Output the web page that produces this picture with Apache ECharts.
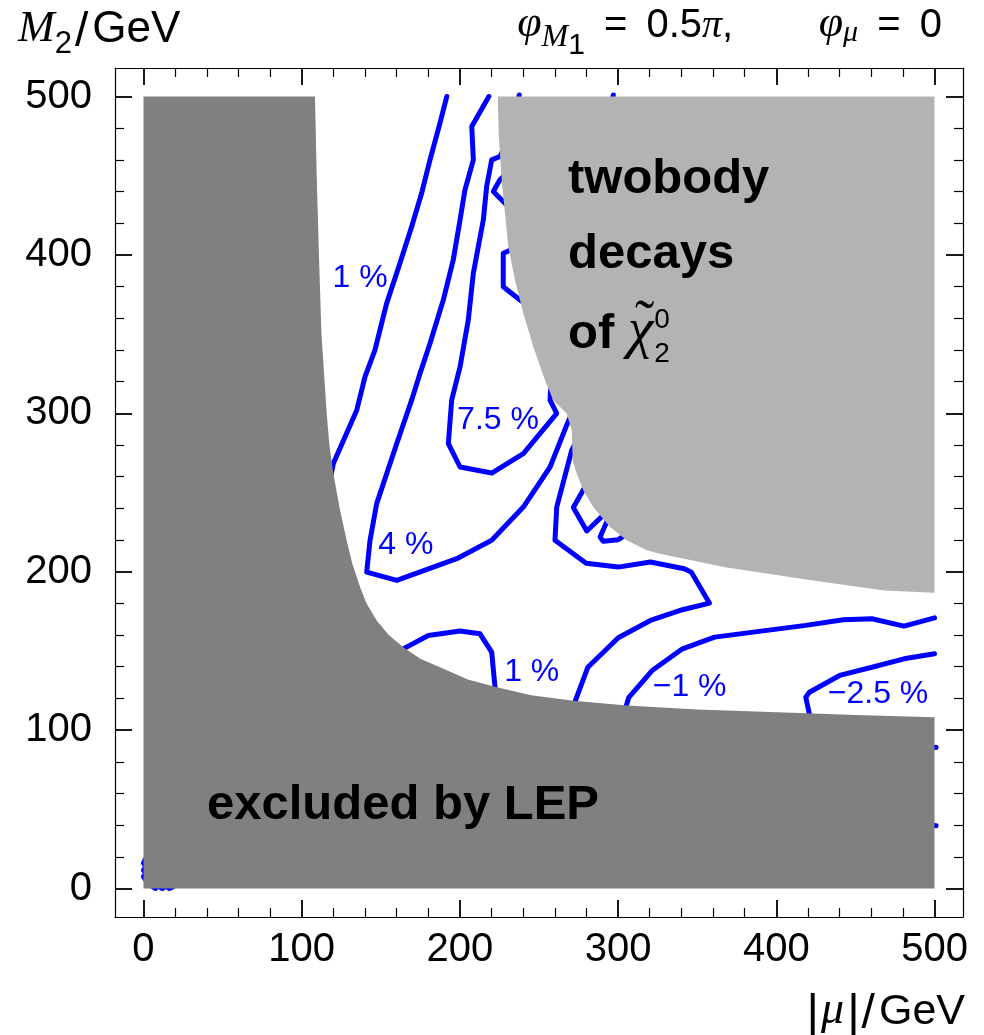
<!DOCTYPE html>
<html><head><meta charset="utf-8">
<script src="https://cdn.jsdelivr.net/npm/echarts@6.0.0/dist/echarts.min.js"></script>
<style>html,body{margin:0;padding:0;background:#fff}#c{width:984px;height:1035px}</style>
</head><body><div id="c"></div>
<script>
// ---------- data ----------
const MAJOR_TICKS = [0, 100, 200, 300, 400, 500];
const TICK_LABELS = ['0', '100', '200', '300', '400', '500'];
const MINOR_TICKS = [20, 40, 60, 80, 120, 140, 160, 180, 220, 240, 260, 280, 320, 340, 360, 380, 420, 440, 460, 480];

// excluded by LEP (dark grey)
const lepRegion = [[0,0],[0,500],[108.4,500],[109.5,450],[110.9,400],[112.5,350],[115.8,300],[117.5,280],[120,262],[124,240],[128.4,219.8],[132,205],[136.9,190.3],[141,180],[147.4,169.2],[155,160],[164.2,152.3],[175,145],[187.4,139.7],[205,132],[223.3,127.1],[245,122],[271.7,118.6],[305.7,115.5],[350,113],[400.5,111.3],[450,109.5],[500,108.1],[500,0]];
// twobody decays (light grey)
const twoBodyRegion = [[223.9,500],[500,500],[500,186.7],[468.3,188.2],[423.1,194.5],[366.7,202.9],[326.5,211.4],[318.1,213.5],[305.4,219.8],[294.9,228.2],[284.3,240.8],[278,251.4],[273.8,262],[271.3,270],[270.7,289.3],[267.5,299.9],[259,308.3],[253.8,320.9],[246.4,342],[240.1,363.1],[234.8,384.1],[230.6,405.2],[226.4,447.4],[224.6,475]];

// contour lines
const c1Upper = [[191.7,500],[187.4,483.2],[181.1,460],[175.8,438.9],[169.5,417.8],[162.1,394.7],[153.7,369.4],[146.3,339.9],[140,323],[134.8,302],[120,268.3],[119,263],[113,240]];
const c1Lower = [[150,150],[164.2,151.3],[180,159.7],[200.1,162.5],[212.7,160.8],[220.1,149.2],[222.2,127.1],[223,100]];
const c4 = [[218.3,500],[207.5,481],[208.5,460],[203.2,441],[200.1,422.1],[195.8,396.8],[189.5,371.5],[181.1,344.1],[174.8,325.2],[169.5,308.3],[160.1,280.9],[147.4,243],[143.2,219.8],[141.1,199.7],[160.1,194.5],[198,208.2],[220.1,219.8],[240.1,240.8],[257,266.1],[267.5,292.5],[275,310]];
const c75 = [[237.5,501],[233,478],[225.3,462.1],[220.1,460],[216.9,443.1],[214.8,422.1],[208.5,388.4],[205.3,358.9],[200.1,329.3],[194.8,308.3],[192.7,280.9],[200.1,266.1],[220.1,262.3],[240.1,274.6],[261.2,299.9],[257,308.3],[258,330]];
const cMid = [[274,283],[270.7,276.7],[261.2,240.8],[260.1,219.8],[279.8,205.4],[300.1,202.9],[320.4,206.1],[341.8,201.9],[346.3,199.7],[357.7,180.2],[340.7,176],[320.4,169.2],[300.1,158.3],[280.9,139.7],[273,118.6],[271,100]];
const cM1 = [[304,100],[305.2,115.5],[306.8,120.7],[321.5,137.6],[340.7,151.3],[361,158.7],[418.6,166.1],[442.3,169.7],[460.4,170.3],[480.7,165.6],[500,170.9]];
const cM25 = [[421,100],[420.9,110.2],[418.6,120.7],[420.9,123.9],[440,134.5],[460.4,139.7],[480.7,145],[500,148.2]];
const bumpA = [[230,452],[225.3,447.4],[221.1,440],[228.5,432.6],[233,428]];
const bumpB = [[235,406],[231.7,403],[227.4,401],[227.4,379.9],[238,371.5],[243,368]];
const bumpC = [[281,256],[277.6,251],[271.7,240.5],[280.2,225.7],[292,237]];
const bumpD = [[294,234],[288.6,221.9],[290.6,219.2],[300.1,220.2],[306,224]];
const hidTop = [[290,470],[297,501]];
const hidRightA = [[440,100],[470,93],[501,89]];
const hidRightB = [[440,48],[501,39.6]];
const hidOrigin = [[2,20],[0,16],[1.5,14],[0,11.5],[1.5,9.5],[0,7.5],[3,3],[7.5,0],[9.5,1.5],[12,0],[14,1.5],[16.5,0],[22,3]];
const contourPieces = [c1Upper, c1Lower, c4, c75, cMid, cM1, cM25, bumpA, bumpB, bumpC, bumpD, hidTop, hidRightA, hidRightB, hidOrigin];

// contour labels
const contourLabels = ['1 %', '7.5 %', '4 %', '1 %', '\u22121 %', '\u22122.5 %'];
const contourLabelX = [136.9, 224.1, 165.8, 245.4, 345.2, 464.3];
const contourLabelY = [385.4, 295.5, 216.6, 136.8, 127.1, 122.9];

// ---------- chart ----------
const SANS = '"Liberation Sans", Arial, Helvetica, sans-serif';
const SERIF = '"Liberation Serif", "Times New Roman", serif';
const BLUE = '#0000ff';

function axis(kind, pos, ticks, len, w, line, label) {
  return {
    type: 'value', position: pos, min: -18, max: 518,
    axisLine: { show: line, onZero: false, lineStyle: { color: '#000', width: 1.2 } },
    axisTick: { show: true, inside: true, length: len, lineStyle: { color: '#000', width: w }, customValues: ticks },
    minorTick: { show: false },
    splitLine: { show: false },
    axisLabel: label ? {
      show: true, customValues: MAJOR_TICKS,
      formatter: v => TICK_LABELS[MAJOR_TICKS.indexOf(v)],
      fontSize: 40, fontFamily: SANS, color: '#000',
      margin: kind === 'x' ? 13 : 23
    } : { show: false }
  };
}

const chart = echarts.init(document.getElementById('c'));
const series = contourPieces.map(d => ({
  type: 'line', data: d, xAxisIndex: 0, yAxisIndex: 0, z: 2, silent: true,
  symbol: 'none', showSymbol: false, animation: false, clip: true,
  lineStyle: { color: BLUE, width: 5, cap: 'round', join: 'round' }
}));
function poly(points, color) {
  return {
    type: 'custom', xAxisIndex: 0, yAxisIndex: 0, z: 3, silent: true, animation: false, clip: true,
    data: [points[0]], encode: { x: 0, y: 1 },
    renderItem: (p, api) => ({ type: 'polygon', shape: { points: points.map(q => api.coord(q)) }, style: { fill: color } })
  };
}
series.push(poly(lepRegion, '#808080'));
series.push(poly(twoBodyRegion, '#b3b3b3'));

chart.setOption({
  animation: false,
  backgroundColor: '#fff',
  grid: { left: 115, right: 21, top: 68, bottom: 118, containLabel: false, outerBoundsMode: 'none' },
  xAxis: [
    axis('x', 'bottom', MAJOR_TICKS, 17, 1.8, true, true),
    axis('x', 'bottom', MINOR_TICKS, 9, 1.2, false, false),
    axis('x', 'top', MAJOR_TICKS, 17, 1.8, true, false),
    axis('x', 'top', MINOR_TICKS, 9, 1.2, false, false)
  ],
  yAxis: [
    axis('y', 'left', MAJOR_TICKS, 17, 1.8, true, true),
    axis('y', 'left', MINOR_TICKS, 9, 1.2, false, false),
    axis('y', 'right', MAJOR_TICKS, 17, 1.8, true, false),
    axis('y', 'right', MINOR_TICKS, 9, 1.2, false, false)
  ],
  series: series
});

// ---------- texts ----------
const mctx = document.createElement('canvas').getContext('2d');
function fontStr(p) { return `${p.it ? 'italic' : 'normal'} ${p.b ? 'bold' : 'normal'} ${p.fs}px ${p.fam}`; }
function measure(p) { mctx.font = fontStr(p); return mctx.measureText(p.t).width; }
function txt(t, x, base, p, color, align) {
  return { type: 'text', x: x, y: base - 0.345 * p.fs, z: 100, silent: true,
    style: { text: t, fontSize: p.fs, fontFamily: p.fam, fontStyle: p.it ? 'italic' : 'normal',
      fontWeight: p.b ? 'bold' : 'normal', fill: color || '#000', align: align || 'left', verticalAlign: 'middle' } };
}
function flow(pieces, x0, base, align, color) {
  const ws = pieces.map(p => measure(p) + (p.gap || 0));
  let x = x0;
  if (align === 'right') x -= ws.reduce((a, b) => a + b, 0);
  const els = [];
  const starts = [];
  pieces.forEach((p, i) => { starts.push(x); els.push(txt(p.t, x, base + (p.dy || 0), p, color)); x += ws[i]; });
  return { els: els, end: x, starts: starts, widths: ws };
}
const px = (x, y) => chart.convertToPixel({ xAxisIndex: 0, yAxisIndex: 0 }, [x, y]);

let g = [];
// contour labels
contourLabels.forEach((t, i) => {
  const p = px(contourLabelX[i], contourLabelY[i]);
  g.push({ type: 'text', x: p[0], y: p[1], z: 100, silent: true,
    style: { text: t, fontSize: 32, fontFamily: SANS, fill: BLUE, align: 'center', verticalAlign: 'middle' } });
});
// region labels
const B48 = { fs: 49, fam: SANS, b: true };
let a = px(40.1, 41.5);
g = g.concat(flow([{ t: 'excluded by LEP', ...B48 }], a[0], a[1]).els);
a = px(268.3, 437.1);
g = g.concat(flow([{ t: 'twobody', ...B48 }], a[0], a[1]).els);
a = px(268.3, 389.3);
g = g.concat(flow([{ t: 'decays', ...B48 }], a[0], a[1]).els);
a = px(268.3, 338.8);
const chiP = { t: '\u03C7', fs: 58, fam: SERIF, it: true };
let f = flow([{ t: 'of ', ...B48 }, chiP], a[0], a[1]);
g = g.concat(f.els);
// tilde over chi
g.push(txt('\u02DC', f.starts[1] + f.widths[1] / 2 + 4, a[1] - 8, { fs: 58, fam: SERIF }, '#000', 'center'));
g.push(txt('0', f.end + 1, a[1] - 21.7, { fs: 28, fam: SANS }));
g.push(txt('2', f.end + 1, a[1] + 11.6, { fs: 28, fam: SANS }));

// axis titles
g = g.concat(flow([
  { t: 'M', fs: 44, fam: SERIF, it: true },
  { t: '2', fs: 31, fam: SANS, dy: 10, gap: 3 },
  { t: '/', fs: 48, fam: SANS, dy: 4, gap: 4 },
  { t: 'GeV', fs: 44, fam: SANS }
], 18, 45).els);
g = g.concat(flow([
  { t: '|', fs: 48, fam: SANS, dy: 4, gap: 2 },
  { t: '\u03BC', fs: 46, fam: SERIF, it: true, gap: 3 },
  { t: '|', fs: 48, fam: SANS, dy: 4, gap: 2 },
  { t: '/', fs: 48, fam: SANS, dy: 4, gap: 4 },
  { t: 'GeV', fs: 43, fam: SANS }
], 965, 1027, 'right').els);
// parameter title
g = g.concat(flow([
  { t: '\u03C6', fs: 44, fam: SERIF, it: true },
  { t: 'M', fs: 32, fam: SERIF, it: true, dy: 9 },
  { t: '1', fs: 30, fam: SANS, dy: 16, gap: 8 },
  { t: ' = ', fs: 40, fam: SANS, gap: 8 },
  { t: '0.5', fs: 40, fam: SANS },
  { t: '\u03C0', fs: 40, fam: SERIF, it: true },
  { t: ',     ', fs: 40, fam: SANS, gap: 30 },
  { t: '\u03C6', fs: 44, fam: SERIF, it: true },
  { t: '\u03BC', fs: 30, fam: SERIF, it: true, dy: 3, gap: 8 },
  { t: ' = ', fs: 40, fam: SANS, gap: 8 },
  { t: '0', fs: 40, fam: SANS }
], 942, 40, 'right').els);

chart.setOption({ graphic: { elements: g } });
</script></body></html>
